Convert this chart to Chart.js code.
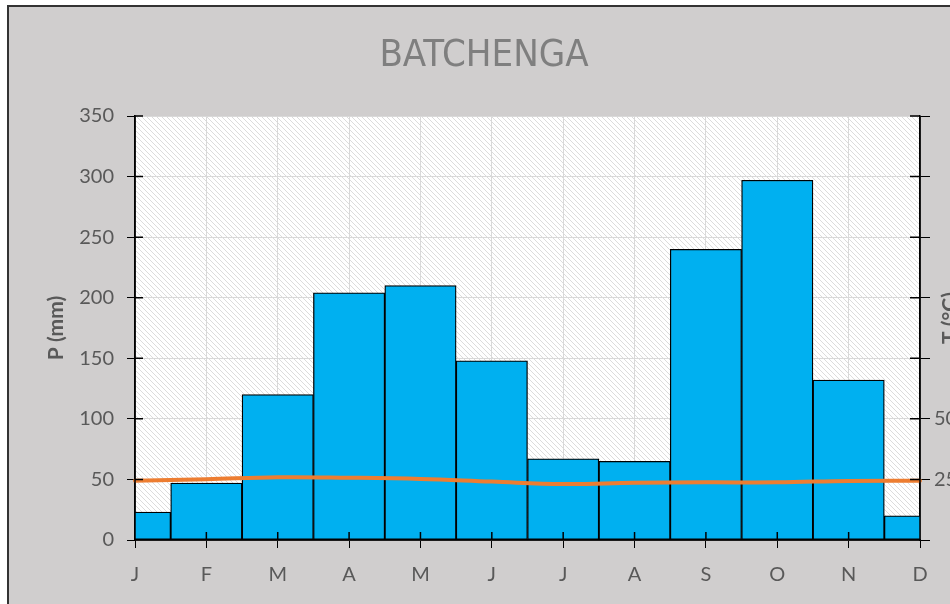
<!DOCTYPE html>
<html>
<head>
<meta charset="utf-8">
<script src="https://cdn.jsdelivr.net/npm/chart.js@4.4.1/dist/chart.umd.min.js"></script>
<style>
  body{margin:0;background:#fff;overflow:hidden;}
  canvas{display:block;}
</style>
</head>
<body>
<canvas id="myChart" width="950" height="604"></canvas>
<script>
const months=["J","F","M","A","M","J","J","A","S","O","N","D"];
const precip=[23,47,120,204,210,148,67,65,240,297,132,20];
const temps=[24.5,25.1,25.9,25.7,25.2,24.1,23.1,23.6,23.8,23.8,24.4,24.5];
const tempLabels=[25,50];

const titleText="BATCHENGA";
const grey="#595959";
const labelFont="Lato, 'Open Sans', sans-serif";

// hatch pattern for the plot area
function makeHatch(){
    let n=5;
    let c=document.createElement("canvas");
    c.width=n;c.height=n;
    let cx=c.getContext("2d");
    let img=cx.createImageData(n,n);
    for(let y=0;y<n;y++){
        for(let x=0;x<n;x++){
            let k=(y*n+x)*4;
            let on=((x-y+n)%n)===0;
            let v=on?220:255;
            img.data[k]=v;img.data[k+1]=v;img.data[k+2]=v;img.data[k+3]=255;
        }
    }
    cx.putImageData(img,0,0);
    return c;
}
const hatch=makeHatch();

const framePlugin={
    id:"frame",
    beforeDraw(chart){
        let ctx=chart.ctx;
        let a=chart.chartArea;
        ctx.save();
        ctx.fillStyle="#fff";
        ctx.fillRect(0,0,chart.width,chart.height);
        ctx.fillStyle="#D0CECE";
        ctx.fillRect(8,6,chart.width,chart.height);
        ctx.strokeStyle="#333";
        ctx.lineWidth=2;
        ctx.beginPath();
        ctx.moveTo(8,chart.height);
        ctx.lineTo(8,6);
        ctx.lineTo(chart.width,6);
        ctx.stroke();
        ctx.fillStyle=ctx.createPattern(hatch,"repeat");
        ctx.fillRect(a.left,a.top,a.right-a.left,a.bottom-a.top);
        ctx.restore();
    },
    afterDatasetsDraw(chart){
        let ctx=chart.ctx;
        let a=chart.chartArea;
        let sx=chart.scales.x,sy=chart.scales.y,sy1=chart.scales.y1;
        ctx.save();
        ctx.strokeStyle="#000";
        ctx.lineWidth=1.5;
        ctx.beginPath();
        // axis lines again, over the bars
        ctx.moveTo(a.left,a.top);ctx.lineTo(a.left,a.bottom);ctx.lineTo(a.right,a.bottom);
        ctx.moveTo(a.right,a.top);ctx.lineTo(a.right,a.bottom);
        // inner halves of the cross tick marks
        for(let i=0;i<sx.ticks.length;i++){
            let px=sx.getPixelForTick(i);
            ctx.moveTo(px,a.bottom);ctx.lineTo(px,a.bottom-8);
        }
        for(let i=0;i<sy.ticks.length;i++){
            let py=sy.getPixelForTick(i);
            ctx.moveTo(a.left,py);ctx.lineTo(a.left+8,py);
        }
        for(let i=0;i<sy1.ticks.length;i++){
            let py=sy1.getPixelForTick(i);
            ctx.moveTo(a.right-10,py);ctx.lineTo(a.right,py);
        }
        ctx.stroke();
        ctx.restore();
    },
    afterDraw(chart){
        let ctx=chart.ctx;
        ctx.save();
        ctx.fillStyle="#7F7F7F";
        ctx.font="38px 'Liberation Sans Narrow', 'DejaVu Sans Condensed', sans-serif";
        ctx.textAlign="center";
        ctx.textBaseline="middle";
        ctx.fillText(titleText,484,56);
        // right axis title, reads bottom to top like the left one
        ctx.translate(950,318);
        ctx.rotate(-Math.PI/2);
        ctx.font="bold 21px "+labelFont;
        ctx.fillStyle=grey;
        ctx.fillText("T (°C)",0,0);
        ctx.restore();
    }
};

let lineChart=new Chart("myChart",{
    type:"bar",
    data:{
        labels:months,
        datasets:[{
            type:"line",
            data:temps,
            yAxisID:"y1",
            borderColor:"#ED7D31",
            borderWidth:4,
            pointRadius:0,
            tension:0.4,
            borderCapStyle:"round",
            order:0
        },{
            type:"bar",
            data:precip,
            yAxisID:"y",
            backgroundColor:"#00B0F0",
            borderColor:"#000",
            borderWidth:1.3,
            borderSkipped:false,
            barPercentage:1,
            categoryPercentage:1,
            order:1
        }]
    },
    options:{
        responsive:false,
        animation:false,
        layout:{padding:{top:116,left:0,right:0,bottom:0}},
        plugins:{
            legend:{display:false},
            title:{display:false},
            tooltip:{enabled:false}
        },
        scales:{
            x:{
                offset:false,
                grid:{offset:false,color:"#D9D9D9",tickColor:"#000",tickLength:8},
                border:{color:"#000",width:1.5},
                ticks:{color:grey,font:{family:labelFont,size:20},padding:15,maxRotation:0},
                afterFit(s){s.height=64}
            },
            y:{
                position:"left",
                min:0,max:350,
                ticks:{stepSize:50,color:grey,font:{family:labelFont,size:20},padding:13},
                grid:{color:"#D9D9D9",tickColor:"#000",tickLength:8},
                border:{color:"#000",width:1.5},
                title:{display:true,text:"P (mm)",color:grey,font:{family:labelFont,size:21,weight:"bold"},padding:{top:44,bottom:0}},
                afterFit(s){s.width=135}
            },
            y1:{
                position:"right",
                min:0,max:175,
                ticks:{
                    stepSize:25,color:grey,font:{family:labelFont,size:20},padding:4,
                    callback:(v)=>tempLabels.includes(v)?v:""
                },
                grid:{drawOnChartArea:false,tickColor:"#000",tickLength:10},
                border:{color:"#000",width:1.5},
                afterFit(s){s.width=30}
            }
        }
    },
    plugins:[framePlugin]
});
</script>
</body>
</html>
